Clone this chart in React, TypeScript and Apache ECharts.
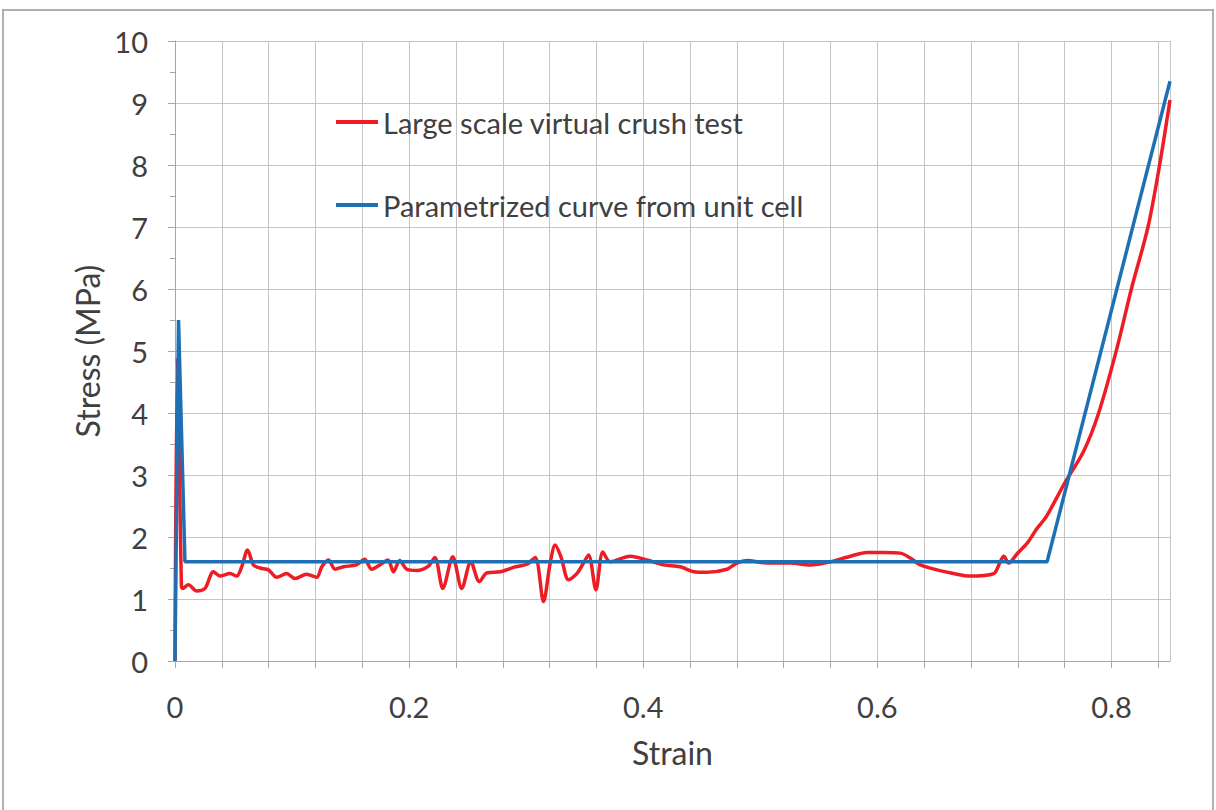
import React, { useEffect, useRef } from "react";
import * as echarts from "echarts";

const xTickLabels = ["0", "0.2", "0.4", "0.6", "0.8"];
const seriesNames = ["Large scale virtual crush test", "Parametrized curve from unit cell"];

const redStrain = [
  0, 0.002, 0.0055, 0.0066, 0.0114, 0.0185, 0.0256, 0.0328, 0.0385, 0.047,
  0.0527, 0.057, 0.062, 0.067, 0.0726, 0.0798, 0.0869, 0.0954, 0.1026, 0.1125,
  0.121, 0.1254, 0.131, 0.1368, 0.1439, 0.155, 0.162, 0.168, 0.175, 0.182,
  0.1866, 0.192, 0.198, 0.2066, 0.2165, 0.222, 0.2288, 0.2373, 0.245, 0.2527,
  0.26, 0.2664, 0.2778, 0.2892, 0.3006, 0.3077, 0.3148, 0.3205, 0.3248, 0.3297,
  0.3362, 0.3433, 0.349, 0.3533, 0.3596, 0.3655, 0.3718, 0.3889, 0.4032, 0.4174,
  0.4316, 0.443, 0.4544, 0.4715, 0.48, 0.4886, 0.5057, 0.5256, 0.5427, 0.5598,
  0.5769, 0.5912, 0.6054, 0.6197, 0.6282, 0.6368, 0.651, 0.6681, 0.678, 0.6994,
  0.7045, 0.708, 0.7122, 0.7194, 0.728, 0.7365, 0.7447, 0.76, 0.7759, 0.7887,
  0.8042, 0.817, 0.8312, 0.8411, 0.85,
];
const redStress = [
  0, 4.9, 1.2, 1.17, 1.23, 1.13, 1.17, 1.44, 1.37, 1.41,
  1.37, 1.52, 1.79, 1.55, 1.5, 1.47, 1.35, 1.41, 1.33, 1.4,
  1.35, 1.52, 1.63, 1.48, 1.52, 1.55, 1.64, 1.48, 1.55, 1.63,
  1.44, 1.62, 1.48, 1.46, 1.53, 1.67, 1.17, 1.68, 1.17, 1.6,
  1.28, 1.42, 1.44, 1.51, 1.56, 1.67, 0.96, 1.58, 1.87, 1.68,
  1.31, 1.41, 1.58, 1.71, 1.15, 1.76, 1.6, 1.69, 1.63, 1.55,
  1.52, 1.44, 1.43, 1.48, 1.58, 1.62, 1.58, 1.58, 1.55, 1.6,
  1.69, 1.75, 1.75, 1.74, 1.66, 1.55, 1.47, 1.4, 1.37, 1.41,
  1.58, 1.69, 1.58, 1.73, 1.9, 2.14, 2.34, 2.87, 3.37, 3.98,
  5.01, 6.0, 7.0, 8.0, 9.05,
];

const blueStrain = [0, 0.003, 0.0085, 0.745, 0.85];
const blueStress = [0, 5.5, 1.6, 1.6, 9.35];

const FONT = "Lato";
const TEXT = "#404040";

export default function App() {
  const ref = useRef<HTMLDivElement>(null);
  useEffect(() => {
    const chart = echarts.init(ref.current!, null, { renderer: "svg" });
    const red = redStrain.map((x, i) => [x, redStress[i]]);
    const blue = blueStrain.map((x, i) => [x, blueStress[i]]);
    chart.setOption({
      animation: false,
      backgroundColor: "#ffffff",
      textStyle: { fontFamily: FONT, color: TEXT },
      grid: { left: 175, top: 41, right: 46, bottom: 149 },
      graphic: [
        {
          type: "rect",
          shape: { x: 3, y: 10, width: 1210, height: 806 },
          style: { fill: "none", stroke: "#b0b0b0", lineWidth: 2 },
          silent: true,
        },
      ],
      legend: {
        data: seriesNames,
        orient: "vertical",
        left: 331,
        top: 100,
        icon: "rect",
        itemWidth: 42,
        itemHeight: 4,
        itemGap: 49,
        textStyle: { fontFamily: FONT, fontSize: 29, color: TEXT, lineHeight: 34 },
      },
      xAxis: {
        type: "value",
        min: 0,
        max: 0.85,
        interval: 0.04,
        name: "Strain",
        nameLocation: "middle",
        nameGap: 75,
        nameTextStyle: { fontFamily: FONT, fontSize: 32, color: TEXT },
        axisLine: { show: true, lineStyle: { color: "#a6a6a6", width: 1 } },
        axisTick: { show: true, length: 7, lineStyle: { color: "#a6a6a6" } },
        splitLine: { show: true, lineStyle: { color: "#c4c4c4", width: 1 } },
        axisLabel: {
          fontFamily: FONT,
          fontSize: 29,
          color: TEXT,
          margin: 31,
          showMaxLabel: false,
          formatter: (v: number) => {
            const r = Math.round(v / 0.2);
            return Math.abs(v - r * 0.2) < 1e-6 ? xTickLabels[r] ?? "" : "";
          },
        },
      },
      yAxis: {
        type: "value",
        min: 0,
        max: 10,
        interval: 1,
        name: "Stress (MPa)",
        nameLocation: "middle",
        nameGap: 71,
        nameRotate: 90,
        nameTextStyle: { fontFamily: FONT, fontSize: 32, color: TEXT },
        axisLine: { show: true, lineStyle: { color: "#a6a6a6", width: 1 } },
        axisTick: { show: true, length: 7, lineStyle: { color: "#a6a6a6" } },
        minorTick: { show: true, splitNumber: 2, length: 5, lineStyle: { color: "#a6a6a6" } },
        splitLine: { show: true, lineStyle: { color: "#c4c4c4", width: 1 } },
        axisLabel: { fontFamily: FONT, fontSize: 29, color: TEXT, margin: 27 },
      },
      series: [
        {
          name: seriesNames[0],
          type: "line",
          data: red,
          showSymbol: false,
          smooth: 0.3,
          lineStyle: { color: "#ee1c25", width: 3.5 },
          itemStyle: { color: "#ee1c25" },
        },
        {
          name: seriesNames[1],
          type: "line",
          data: blue,
          showSymbol: false,
          lineStyle: { color: "#1f6fb4", width: 3.5 },
          itemStyle: { color: "#1f6fb4" },
        },
      ],
    });
    return () => chart.dispose();
  }, []);
  return (
    <div
      ref={ref}
      style={{ position: "fixed", left: 0, top: 0, width: 1216, height: 810, background: "#fff" }}
    />
  );
}
